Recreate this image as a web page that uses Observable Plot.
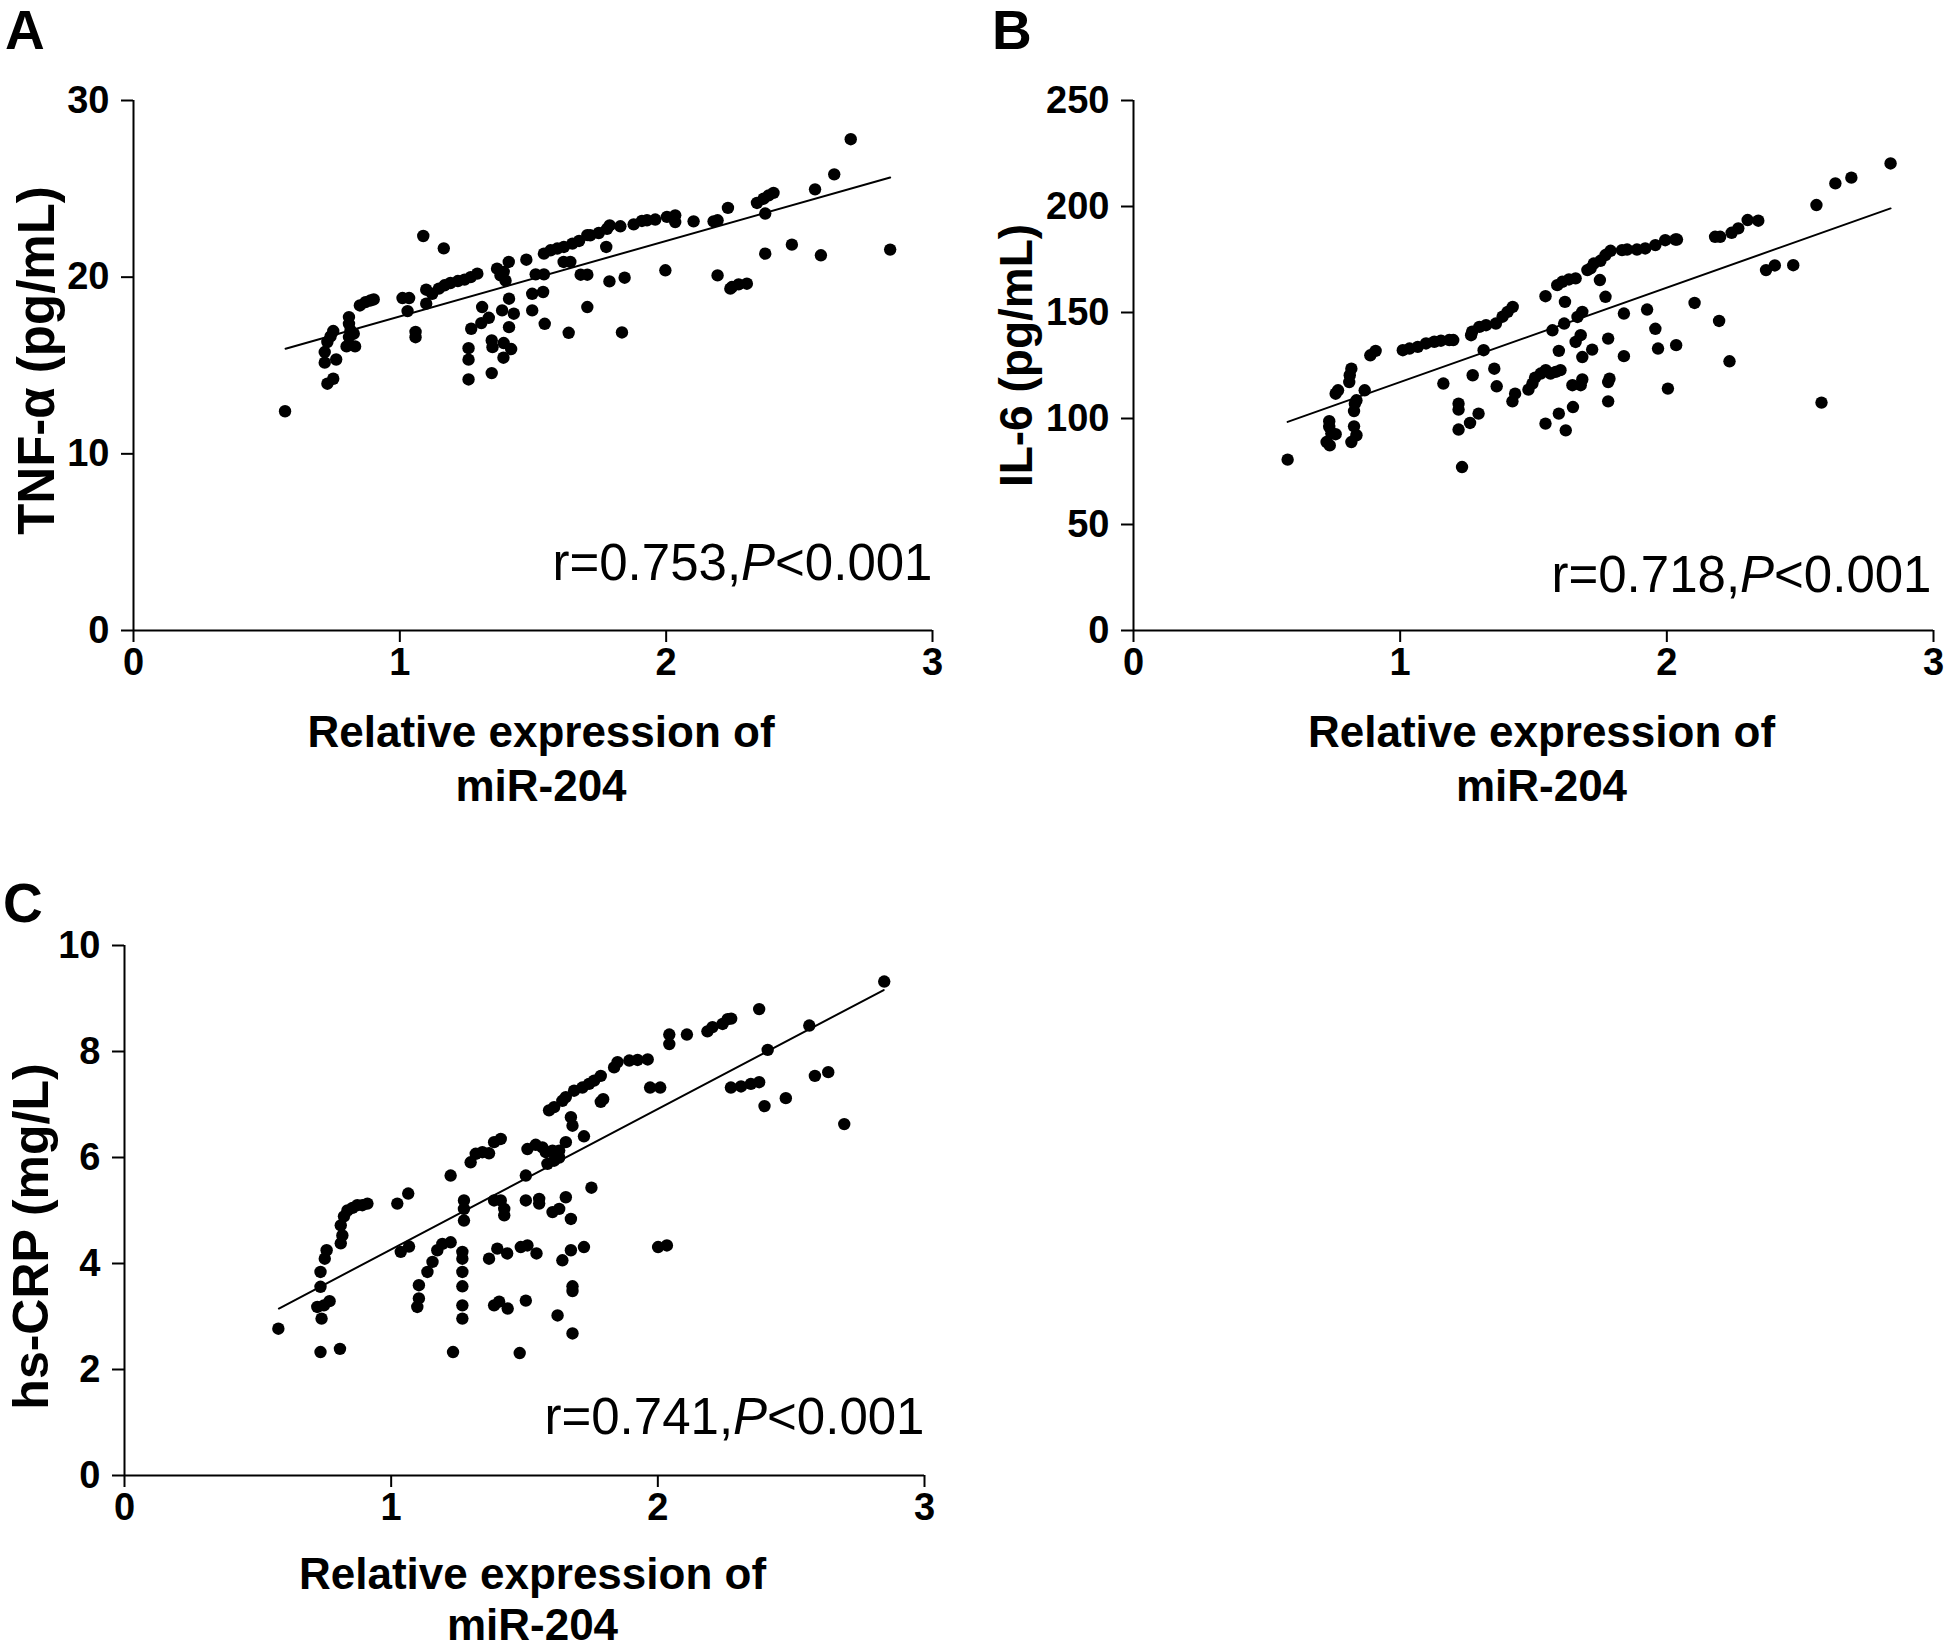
<!DOCTYPE html>
<html>
<head>
<meta charset="utf-8">
<script src="https://cdn.jsdelivr.net/npm/d3@7"></script>
<script src="https://cdn.jsdelivr.net/npm/@observablehq/plot@0.6"></script>
<style>
  html, body { margin: 0; padding: 0; background: #fff; }
  #root { position: relative; width: 1944px; height: 1648px; background: #fff; overflow: hidden;
          font-family: "Liberation Sans", Arial, Helvetica, sans-serif; }
  .panel { position: absolute; }
  .panel svg { overflow: visible; }
  .letter { position: absolute; font-size: 55px; font-weight: bold; line-height: 1; color: #000; }
</style>
</head>
<body>
<div id="root">
  <div class="letter" style="left:5px; top:3px;">A</div>
  <div class="letter" style="left:992px; top:3px;">B</div>
  <div class="letter" style="left:3px; top:876px;">C</div>
  <div class="panel" id="pA" style="left:0px; top:0px;"></div>
  <div class="panel" id="pB" style="left:972px; top:0px;"></div>
  <div class="panel" id="pC" style="left:0px; top:830px;"></div>
</div>
<script>
// ---------- shared ----------
const xTicks = [0, 1, 2, 3];
const xTitle = "Relative expression of\nmiR-204";

// ---------- Panel A: TNF-α ----------
const yTicksA = [0, 10, 20, 30];
const yLabelA = "TNF-α (pg/mL)";
const statA = "r=0.753,P<0.001";
const xA = [0.569,0.728,0.750,0.718,0.761,0.718,0.728,0.740,0.750,0.809,0.809,0.815,0.809,0.827,0.800,0.832,
  0.850,0.871,0.890,0.902,1.010,1.035,1.029,1.059,1.059,1.099,1.099,1.088,1.165,
  1.1215,1.1465,1.168,1.190,1.218,1.243,1.266,1.291,1.365,1.378,1.397,1.409,1.390,1.475,
  1.410,1.309,1.384,1.428,1.334,1.306,1.410,1.268,1.345,1.348,1.390,1.418,1.389,1.258,1.258,1.258,1.345,
  1.497,1.497,1.538,1.510,1.541,1.544,1.634,1.615,1.640,
  1.541,1.566,1.591,1.616,1.648,1.673,1.704,1.679,1.704,1.704,
  1.715,1.747,1.778,1.788,1.828,1.878,1.909,1.928,1.959,2.003,2.034,2.034,
  2.103,2.178,2.193,2.232,2.341,2.366,2.385,2.403,2.372,
  2.559,2.631,2.693,2.841,2.372,2.472,2.581,2.193,2.247,2.272,2.303,2.241,
  1.997,1.775,1.787,1.844,1.834];
const yA = [12.41,13.97,14.25,15.16,15.34,15.76,16.33,16.65,16.95,17.74,17.36,16.99,16.61,16.80,16.08,16.08,
  18.40,18.59,18.68,18.74,18.82,18.82,18.08,16.90,16.60,19.29,18.50,22.33,21.63,
  19.06,19.35,19.54,19.67,19.78,19.86,20.00,20.20,20.48,20.10,19.80,20.86,20.30,20.99,
  18.78,18.31,18.12,17.93,17.70,17.40,17.17,17.08,16.42,16.04,16.27,15.93,15.44,15.98,15.33,14.21,14.57,
  19.06,18.12,19.16,20.16,20.16,17.36,16.85,20.86,20.86,
  21.33,21.52,21.62,21.71,21.90,22.05,22.38,20.14,20.14,18.31,
  22.37,22.50,22.74,22.93,22.88,22.99,23.18,23.22,23.26,23.41,23.50,23.12,
  23.16,23.16,23.22,23.92,24.20,24.44,24.63,24.77,23.60,
  24.97,25.82,27.81,21.56,21.33,21.84,21.24,20.10,19.44,19.59,19.63,19.35,
  20.39,21.71,19.76,19.97,16.87];
const fitXA = [0.571, 2.841];
const fitYA = [15.95, 25.64];

// ---------- Panel B: IL-6 ----------
const yTicksB = [0, 50, 100, 150, 200, 250];
const yLabelB = "IL-6 (pg/mL)";
const statB = "r=0.718,P<0.001";
const xB = [0.578,0.734,0.734,0.742,0.758,0.724,0.736,0.758,0.767,
  0.817,0.811,0.809,0.836,0.830,0.827,0.827,0.836,0.817,0.867,0.888,0.908,
  1.010,1.035,1.066,1.097,1.128,1.153,1.184,1.199,
  1.266,1.270,1.297,1.322,1.359,1.384,1.403,1.422,
  1.313,1.162,1.272,1.353,1.362,1.219,1.219,1.294,1.262,1.219,1.232,1.421,1.431,
  1.481,1.496,1.506,1.527,1.546,1.564,1.583,1.601,
  1.545,1.595,1.621,1.648,1.646,1.677,1.683,
  1.595,1.615,1.571,1.658,1.677,1.683,1.665,1.683,1.618,1.545,
  1.589,1.608,1.633,1.658,1.702,
  1.714,1.726,1.751,1.770,1.789,1.832,1.851,1.888,1.919,1.957,1.994,2.032,2.038,
  2.181,2.200,2.243,2.268,2.303,2.343,2.561,2.632,2.692,2.839,
  2.372,2.405,2.474,2.580,
  1.749,1.770,1.839,1.926,2.104,2.196,1.957,1.780,
  1.720,1.839,1.967,2.035,2.235,1.785,1.780,1.780,2.004];
const yB = [80.6,98.7,96.0,92.9,92.6,88.9,87.3,111.7,113.3,
  123.5,120.4,117.2,108.6,107.0,103.5,96.3,92.1,88.9,113.3,129.8,131.9,
  132.2,133.0,133.8,135.4,136.2,136.7,137.0,137.0,
  139.3,141.0,143.2,144.0,144.8,148.0,150.3,152.6,
  132.2,116.5,120.4,123.5,115.2,107.0,104.2,102.3,97.9,94.8,77.1,108.1,111.7,
  113.6,116.5,119.3,121.2,122.8,121.2,122.0,122.8,
  97.6,102.3,94.4,105.4,115.7,115.7,118.4,
  131.9,144.8,141.6,136.1,139.3,129.0,147.9,150.3,155.0,157.7,
  162.9,164.5,165.6,166.1,170.0,
  170.8,173.1,174.4,177.1,179.1,179.4,179.7,179.7,180.2,181.8,184.1,184.4,184.4,
  185.7,185.7,187.6,189.7,193.6,193.3,200.7,210.9,213.6,220.3,
  170.0,172.2,172.3,107.5,
  165.3,157.4,149.5,151.4,154.5,146.0,142.3,137.7,
  132.5,129.4,133.0,134.6,127.0,118.8,117.2,108.1,114.1];
const fitXB = [0.578, 2.839];
const fitYB = [98.4, 199.1];

// ---------- Panel C: hs-CRP ----------
const yTicksC = [0, 2, 4, 6, 8, 10];
const yLabelC = "hs-CRP (mg/L)";
const statC = "r=0.741,P<0.001";
const xC = [0.577,0.735,0.808,
  0.739,0.723,0.748,0.769,0.735,0.735,0.751,0.758,
  0.811,0.817,0.811,0.823,0.836,0.855,0.873,0.892,0.911,
  1.023,1.064,1.036,1.067,1.223,
  1.298,1.317,1.342,1.367,1.386,1.411,1.273,1.273,1.273,
  1.136,1.155,1.173,1.192,1.223,1.104,1.104,1.098,
  1.267,1.267,1.267,1.267,1.267,1.267,1.232,
  1.367,1.398,1.435,1.386,1.405,1.437,
  1.386,1.411,1.424,1.424,
  1.486,1.511,1.545,1.505,1.482,
  1.505,1.555,1.555,1.505,
  1.511,1.542,1.567,1.580,1.605,1.586,1.611,1.630,1.630,
  1.655,1.674,1.680,1.592,1.611,1.642,1.655,1.686,
  1.655,1.605,1.630,1.674,1.642,1.674,1.680,1.680,1.624,1.680,1.723,
  1.717,1.742,1.761,1.786,1.836,1.849,1.893,1.924,1.962,
  1.786,1.795,1.971,2.009,2.043,2.043,2.109,
  2.186,2.205,2.243,2.262,2.275,2.380,2.849,2.568,2.412,
  2.274,2.312,2.349,2.380,2.400,2.480,2.589,2.639,2.699,
  1.751,1.723,2.001,2.034];
const yC = [2.77,2.33,2.39,
  2.96,3.18,3.21,3.29,3.56,3.84,4.09,4.25,
  4.38,4.53,4.72,4.89,5.00,5.05,5.10,5.10,5.13,
  5.13,5.32,4.22,4.32,5.66,
  5.91,6.07,6.10,6.08,6.29,6.35,5.19,5.03,4.81,
  3.84,4.03,4.25,4.37,4.40,3.59,3.34,3.18,
  4.22,4.09,3.84,3.57,3.21,2.96,2.33,
  4.09,4.28,4.19,3.21,3.28,3.15,
  5.19,5.19,5.03,4.91,
  4.31,4.34,4.19,3.30,2.31,
  5.19,5.22,5.13,5.66,
  6.16,6.24,6.19,6.10,6.13,5.88,5.94,6.00,6.13,
  6.29,6.76,6.60,6.89,6.95,7.07,7.14,7.26,
  5.25,4.97,5.03,4.84,4.06,4.25,3.57,3.48,3.02,2.68,6.40,
  7.32,7.39,7.45,7.54,7.70,7.80,7.83,7.84,7.85,
  7.05,7.10,7.32,7.32,8.32,8.14,8.32,
  8.38,8.46,8.52,8.61,8.62,8.80,9.32,8.49,8.03,
  7.32,7.34,7.39,7.42,6.97,7.12,7.54,7.61,6.63,
  5.43,4.31,4.31,4.34];
const fitXC = [0.579, 2.847];
const fitYC = [3.15, 9.16];

// ---------- drawing ----------
const FONT = "'Liberation Sans', Arial, Helvetica, sans-serif";

function italicP(svg) {
  svg.querySelectorAll("text").forEach(t => {
    if (t.childElementCount === 0 && /,P</.test(t.textContent)) {
      const s = t.textContent;
      const i = s.indexOf("P");
      t.textContent = "";
      const ns = "http://www.w3.org/2000/svg";
      const a = document.createElementNS(ns, "tspan"); a.textContent = s.slice(0, i);
      const b = document.createElementNS(ns, "tspan"); b.textContent = "P"; b.setAttribute("font-style", "italic");
      const c = document.createElementNS(ns, "tspan"); c.textContent = s.slice(i + 1);
      t.append(a, b, c);
    }
  });
}

function panel(o) {
  const pts = o.xs.map((x, i) => ({x, y: o.ys[i]}));
  const fit = o.fitX.map((x, i) => ({x, y: o.fitY[i]}));
  const svg = Plot.plot({
    width: o.width, height: o.height,
    marginLeft: o.ml, marginRight: o.mr, marginTop: o.mt, marginBottom: o.mb,
    style: {fontFamily: FONT, fontSize: "38px", fontWeight: "bold", color: "#000", background: "transparent", overflow: "visible"},
    x: {domain: [0, 3]},
    y: {domain: o.yDomain},
    marks: [
      Plot.axisX({ticks: xTicks, tickFormat: d => String(d), tickSize: 12, tickPadding: 6, strokeWidth: 2, label: null, fontSize: 38, fontWeight: "bold"}),
      Plot.axisY({ticks: o.yTicks, tickFormat: d => String(d), tickSize: 12, tickPadding: 12, strokeWidth: 2, label: null, fontSize: 38, fontWeight: "bold"}),
      Plot.ruleX([0], {stroke: "#000", strokeWidth: 2}),
      Plot.ruleY([0], {stroke: "#000", strokeWidth: 2}),
      Plot.line(fit, {x: "x", y: "y", stroke: "#000", strokeWidth: 2}),
      Plot.dot(pts, {x: "x", y: "y", r: 6.2, fill: "#000", stroke: "none"}),
      Plot.text([o.stat], {text: d => d, frameAnchor: "bottom-right", textAnchor: "end", lineAnchor: "bottom",
        dx: o.sdx, dy: o.sdy, fontSize: 51, fontWeight: "normal", fontFamily: FONT}),
      Plot.text([xTitle], {text: d => d, frameAnchor: "bottom", textAnchor: "middle", lineAnchor: "top",
        dx: 8, dy: o.tdy, lineHeight: o.tlh, fontSize: 44, fontWeight: "bold", fontFamily: FONT}),
      Plot.text([o.yLabel], {text: d => d, frameAnchor: "left", rotate: -90, textAnchor: "middle", lineAnchor: "middle",
        dx: o.ldx, dy: o.ldy, fontSize: o.lfs, fontWeight: "bold", fontFamily: FONT})
    ]
  });
  italicP(svg);
  return svg;
}

document.getElementById("pA").append(panel({
  xs: xA, ys: yA, fitX: fitXA, fitY: fitYA, yDomain: [0, 30], yTicks: yTicksA, yLabel: yLabelA, stat: statA,
  width: 972, height: 830, ml: 133, mr: 40, mt: 100, mb: 200, sdx: 0, sdy: -51, tdy: 78, tlh: 1.23, ldx: -96, ldy: -5, lfs: 51
}));
document.getElementById("pB").append(panel({
  xs: xB, ys: yB, fitX: fitXB, fitY: fitYB, yDomain: [0, 250], yTicks: yTicksB, yLabel: yLabelB, stat: statB,
  width: 972, height: 830, ml: 161, mr: 11, mt: 100, mb: 200, sdx: -2, sdy: -39, tdy: 78, tlh: 1.23, ldx: -116, ldy: -10, lfs: 46
}));
document.getElementById("pC").append(panel({
  xs: xC, ys: yC, fitX: fitXC, fitY: fitYC, yDomain: [0, 10], yTicks: yTicksC, yLabel: yLabelC, stat: statC,
  width: 972, height: 818, ml: 124, mr: 48, mt: 115, mb: 173, sdx: 0, sdy: -42, tdy: 77, tlh: 1.16, ldx: -93, ldy: 26, lfs: 50
}));
</script>
</body>
</html>
